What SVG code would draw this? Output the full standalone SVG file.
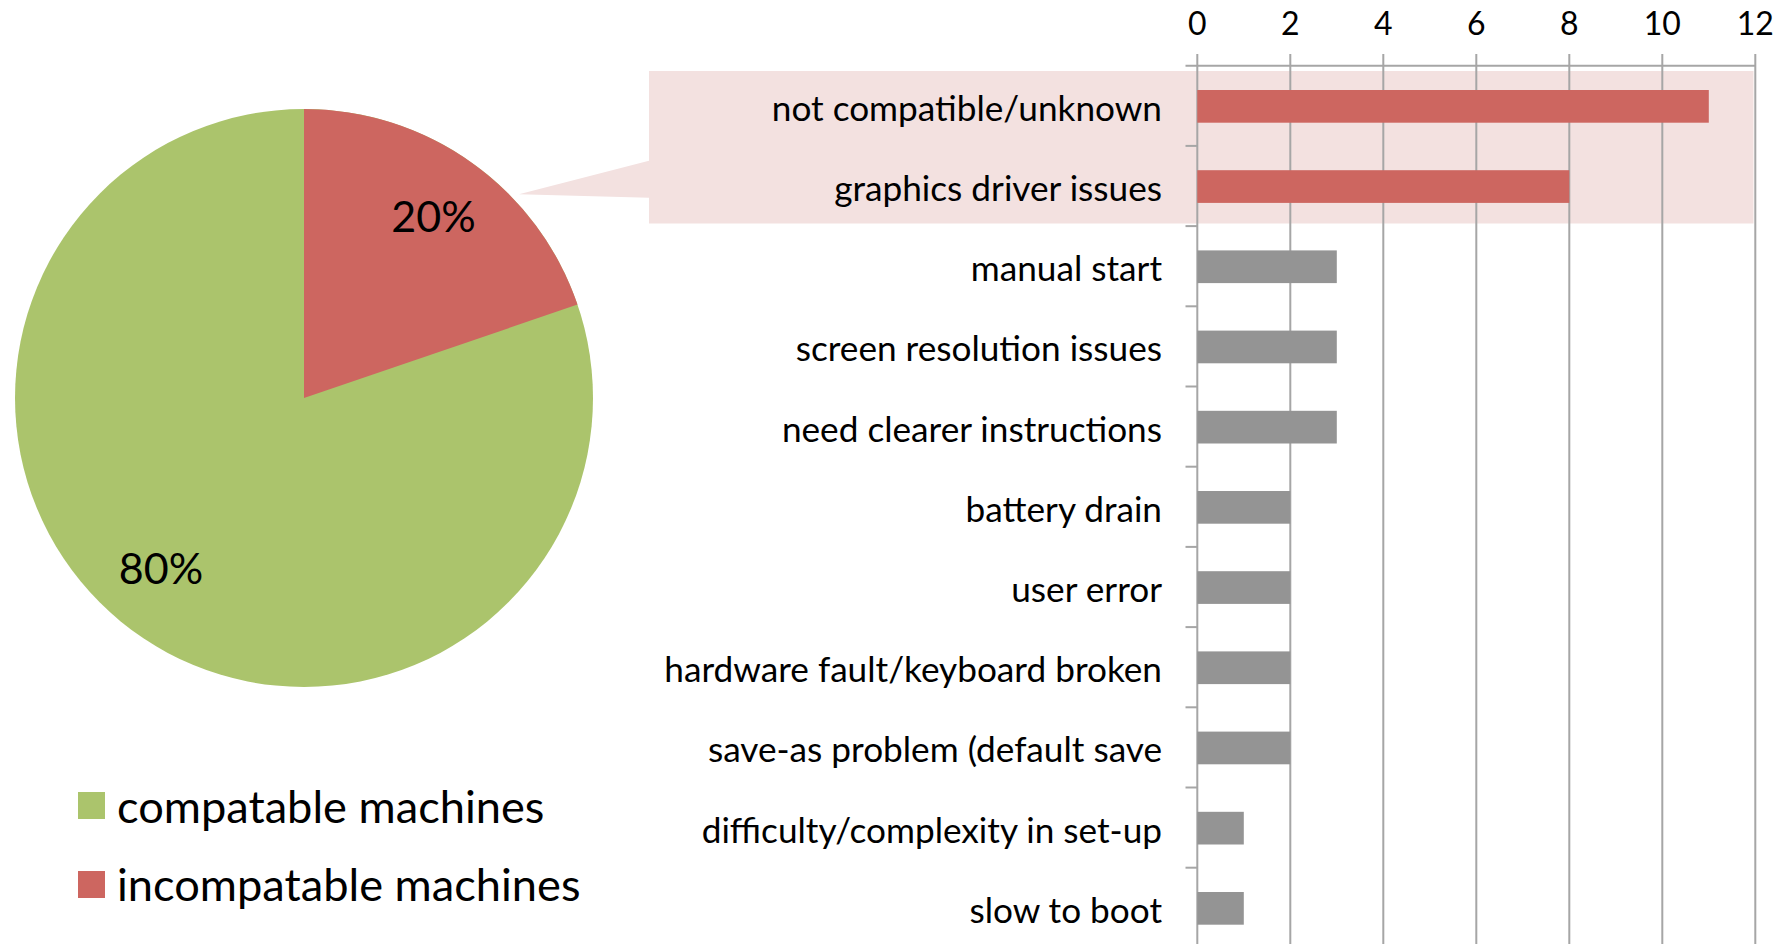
<svg xmlns="http://www.w3.org/2000/svg" width="1789" height="944" viewBox="0 0 1789 944">
  <style>
    text { font-family: Lato, "Liberation Sans", sans-serif; fill: #000; }
    .tick { font-size: 32px; text-anchor: middle; }
    .cat { font-size: 35.2px; text-anchor: end; }
    .pct { font-size: 43px; text-anchor: middle; }
    .leg { font-size: 45.2px; }
    .grid { stroke: #A6A6A6; stroke-width: 2; fill: none; }
    .bar-red { fill: #CD6660; }
    .bar-gray { fill: #949494; }
    .highlight { fill: #F3E1E0; }
  </style>

  <rect width="1789" height="944" fill="#FFFFFF"/>

  <!-- pie chart: 80% compatible / 20% incompatible -->
  <g id="pie">
    <circle cx="304" cy="398" r="289" fill="#ABC46C"/>
    <path d="M304,398 L304,109 A289,289 0 0 1 577.5,304.6 Z" fill="#CD6660"/>
    <text class="pct" x="433.5" y="232">20%</text>
    <text class="pct" x="161" y="584">80%</text>
  </g>

  <!-- legend -->
  <g id="legend">
    <rect x="78" y="792" width="27" height="27" fill="#ABC46C"/>
    <text class="leg" x="117" y="823">compatable machines</text>
    <rect x="78" y="871" width="27" height="27" fill="#CD6660"/>
    <text class="leg" x="117" y="901">incompatable machines</text>
  </g>

  <!-- callout linking the red slice to the breakdown -->
  <g id="connectors">
    <polygon class="highlight" points="649,160.7 519,194.3 649,197.7"/>
  </g>

  <!-- highlight band behind the first two categories -->
  <g id="highlight">
    <rect class="highlight" x="649" y="71" width="1104.5" height="152.5"/>
  </g>

  <!-- value axis: gridlines, ticks and labels -->
  <g id="axis">
    <line class="grid" x1="1185.5" y1="65.7" x2="1755.3" y2="65.7"/>
    <line class="grid" x1="1197.3" y1="54" x2="1197.3" y2="944"/>
    <line class="grid" x1="1290.3" y1="54" x2="1290.3" y2="944"/>
    <line class="grid" x1="1383.3" y1="54" x2="1383.3" y2="944"/>
    <line class="grid" x1="1476.3" y1="54" x2="1476.3" y2="944"/>
    <line class="grid" x1="1569.3" y1="54" x2="1569.3" y2="944"/>
    <line class="grid" x1="1662.3" y1="54" x2="1662.3" y2="944"/>
    <line class="grid" x1="1755.3" y1="54" x2="1755.3" y2="944"/>
    <!-- category ticks -->
    <line class="grid" x1="1185.5" y1="145.9" x2="1197.3" y2="145.9"/>
    <line class="grid" x1="1185.5" y1="226.1" x2="1197.3" y2="226.1"/>
    <line class="grid" x1="1185.5" y1="306.3" x2="1197.3" y2="306.3"/>
    <line class="grid" x1="1185.5" y1="386.5" x2="1197.3" y2="386.5"/>
    <line class="grid" x1="1185.5" y1="466.7" x2="1197.3" y2="466.7"/>
    <line class="grid" x1="1185.5" y1="546.9" x2="1197.3" y2="546.9"/>
    <line class="grid" x1="1185.5" y1="627.1" x2="1197.3" y2="627.1"/>
    <line class="grid" x1="1185.5" y1="707.3" x2="1197.3" y2="707.3"/>
    <line class="grid" x1="1185.5" y1="787.5" x2="1197.3" y2="787.5"/>
    <line class="grid" x1="1185.5" y1="867.7" x2="1197.3" y2="867.7"/>
    <text class="tick" x="1197.3" y="35">0</text>
    <text class="tick" x="1290.3" y="35">2</text>
    <text class="tick" x="1383.3" y="35">4</text>
    <text class="tick" x="1476.3" y="35">6</text>
    <text class="tick" x="1569.3" y="35">8</text>
    <text class="tick" x="1662.3" y="35">10</text>
    <text class="tick" x="1755.3" y="35">12</text>
  </g>

  <!-- bars: 46.5 px per unit, 80.2 px per category -->
  <g id="bar-not-compatible">
    <rect class="bar-red" x="1197.3" y="90" width="511.5" height="32.7"/>
    <text class="cat" x="1162" y="120.8">not compatible/unknown</text>
  </g>
  <g id="bar-graphics-driver">
    <rect class="bar-red" x="1197.3" y="170.2" width="372" height="32.7"/>
    <text class="cat" x="1162" y="201">graphics driver issues</text>
  </g>
  <g id="bar-manual-start">
    <rect class="bar-gray" x="1197.3" y="250.4" width="139.5" height="32.7"/>
    <text class="cat" x="1162" y="281.2">manual start</text>
  </g>
  <g id="bar-screen-resolution">
    <rect class="bar-gray" x="1197.3" y="330.6" width="139.5" height="32.7"/>
    <text class="cat" x="1162" y="361.4">screen resolution issues</text>
  </g>
  <g id="bar-instructions">
    <rect class="bar-gray" x="1197.3" y="410.8" width="139.5" height="32.7"/>
    <text class="cat" x="1162" y="441.6">need clearer instructions</text>
  </g>
  <g id="bar-battery">
    <rect class="bar-gray" x="1197.3" y="491" width="93" height="32.7"/>
    <text class="cat" x="1162" y="521.8">battery drain</text>
  </g>
  <g id="bar-user-error">
    <rect class="bar-gray" x="1197.3" y="571.2" width="93" height="32.7"/>
    <text class="cat" x="1162" y="602">user error</text>
  </g>
  <g id="bar-hardware">
    <rect class="bar-gray" x="1197.3" y="651.4" width="93" height="32.7"/>
    <text class="cat" x="1162" y="682.2">hardware fault/keyboard broken</text>
  </g>
  <g id="bar-save-as">
    <rect class="bar-gray" x="1197.3" y="731.6" width="93" height="32.7"/>
    <text class="cat" x="1162" y="762.4">save-as problem (default save</text>
  </g>
  <g id="bar-setup">
    <rect class="bar-gray" x="1197.3" y="811.8" width="46.5" height="32.7"/>
    <text class="cat" x="1162" y="842.6">difficulty/complexity in set-up</text>
  </g>
  <g id="bar-slow-boot">
    <rect class="bar-gray" x="1197.3" y="892" width="46.5" height="32.7"/>
    <text class="cat" x="1162" y="922.8">slow to boot</text>
  </g>
</svg>
